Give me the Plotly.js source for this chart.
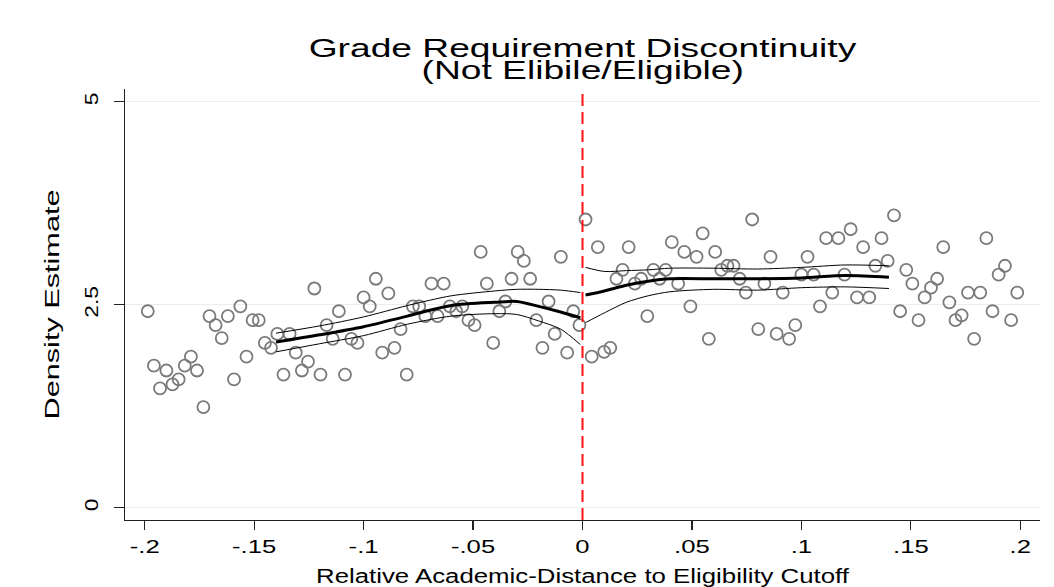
<!DOCTYPE html>
<html>
<head>
<meta charset="utf-8">
<script src="https://cdn.plot.ly/plotly-3.0.1.min.js"></script>
<style>
html,body{margin:0;padding:0;background:#fff;}
#chart{width:1054px;height:587px;}
</style>
</head>
<body>
<div id="chart"></div>
<script>
// ---- data ----
var xLeft = [-0.1986,-0.1958,-0.1930,-0.1901,-0.1873,-0.1845,-0.1817,-0.1789,-0.1761,-0.1732,-0.1704,-0.1676,-0.1648,-0.1620,-0.1592,-0.1563,-0.1535,-0.1507,-0.1479,-0.1451,-0.1423,-0.1394,-0.1366,-0.1338,-0.1310,-0.1282,-0.1254,-0.1225,-0.1197,-0.1169,-0.1141,-0.1113,-0.1085,-0.1056,-0.1028,-0.1000,-0.0972,-0.0944,-0.0915,-0.0887,-0.0859,-0.0831,-0.0803,-0.0775,-0.0746,-0.0718,-0.0690,-0.0662,-0.0634,-0.0606,-0.0577,-0.0549,-0.0521,-0.0493,-0.0465,-0.0437,-0.0408,-0.0380,-0.0352,-0.0324,-0.0296,-0.0268,-0.0239,-0.0211,-0.0183,-0.0155,-0.0127,-0.0099,-0.0070,-0.0042,-0.0014];
var yLeft = [2.42,1.75,1.47,1.69,1.52,1.58,1.75,1.86,1.69,1.24,
             2.36,2.25,2.09,2.36,1.58,2.48,1.86,2.31,2.31,2.03,
             1.97,2.14,1.64,2.14,1.91,1.69,1.80,2.70,1.64,2.25,
             2.08,2.42,1.64,2.08,2.03,2.59,2.48,2.82,1.91,2.64,
             1.97,2.20,1.64,2.48,2.48,2.36,2.76,2.36,2.76,2.48,
             2.42,2.48,2.31,2.25,3.15,2.76,2.03,2.42,2.54,2.82,
             3.15,3.04,2.82,2.31,1.97,2.54,2.14,3.09,1.91,2.42,2.25];
var xRight = [0.0014,0.0042,0.0070,0.0099,0.0127,0.0155,0.0183,0.0211,0.0239,0.0268,0.0296,0.0324,0.0352,0.0380,0.0408,0.0437,0.0465,0.0493,0.0521,0.0549,0.0577,0.0606,0.0634,0.0662,0.0690,0.0718,0.0746,0.0775,0.0803,0.0831,0.0859,0.0887,0.0915,0.0944,0.0972,0.1000,0.1028,0.1056,0.1085,0.1113,0.1141,0.1169,0.1197,0.1225,0.1254,0.1282,0.1310,0.1338,0.1366,0.1394,0.1423,0.1451,0.1479,0.1507,0.1535,0.1563,0.1592,0.1620,0.1648,0.1676,0.1704,0.1732,0.1761,0.1789,0.1817,0.1845,0.1873,0.1901,0.1930,0.1958,0.1986];
var yRight = [3.55,1.86,3.21,1.92,1.97,2.82,2.93,3.21,2.76,2.82,
              2.36,2.93,2.82,2.93,3.27,2.76,3.15,2.48,3.09,3.38,
              2.08,3.15,2.93,2.98,2.98,2.82,2.65,3.55,2.20,2.76,
              3.09,2.14,2.65,2.08,2.25,2.87,3.09,2.87,2.48,3.32,
              2.65,3.32,2.87,3.43,2.59,3.21,2.59,2.98,3.32,3.04,
              3.60,2.42,2.93,2.76,2.31,2.59,2.71,2.82,3.21,2.53,
              2.31,2.37,2.65,2.08,2.65,3.32,2.42,2.87,2.98,2.31,2.65];

var fitXLeft  = [-0.14,-0.12,-0.10,-0.08,-0.06,-0.04,-0.03,-0.02,-0.01,-0.001];
var fitLeft   = [2.04, 2.13, 2.23, 2.36, 2.49, 2.53, 2.54, 2.48, 2.41, 2.34];
var ciUpLeft  = [2.15, 2.24, 2.35, 2.49, 2.61, 2.67, 2.69, 2.69, 2.68, 2.65];
var ciLoLeft  = [1.92, 2.02, 2.12, 2.26, 2.36, 2.39, 2.38, 2.30, 2.20, 2.01];

var fitXRight = [0.0014,0.01,0.02,0.03,0.04,0.06,0.08,0.10,0.12,0.14];
var fitRight  = [2.62, 2.67, 2.74, 2.79, 2.82, 2.82, 2.82, 2.83, 2.86, 2.84];
var ciUpRight = [2.96, 2.91, 2.92, 2.93, 2.95, 2.95, 2.94, 2.96, 2.99, 2.98];
var ciLoRight = [2.28, 2.40, 2.53, 2.61, 2.66, 2.69, 2.68, 2.71, 2.72, 2.70];

var xTickVals = [-0.2,-0.15,-0.1,-0.05,0,0.05,0.1,0.15,0.2];
var xTickText = ["-.2","-.15","-.1","-.05","0",".05",".1",".15",".2"];
var yTickVals = [0,2.5,5];
var yTickText = ["0","2.5","5"];

var titleLine1 = "Grade Requirement Discontinuity";
var titleLine2 = "(Not Elibile/Eligible)";
var xTitle = "Relative Academic-Distance to Eligibility Cutoff";
var yTitle = "Density Estimate";
var cutoff = 0;

// ---- styles ----
var FONT = "Liberation Sans, Arial, Helvetica, sans-serif";
var marker = {symbol:'circle-open', size:12, color:'#7a7a7a', line:{width:1.8, color:'#7a7a7a'}};
function line(x, y, w){ return {x:x, y:y, type:'scatter', mode:'lines', line:{color:'#000', width:w, shape:'spline', smoothing:0.8}, hoverinfo:'skip', showlegend:false}; }

var data = [
  {x:xLeft, y:yLeft, type:'scatter', mode:'markers', marker:marker, showlegend:false},
  {x:xRight, y:yRight, type:'scatter', mode:'markers', marker:marker, showlegend:false},
  line(fitXLeft, ciUpLeft, 1), line(fitXLeft, ciLoLeft, 1), line(fitXLeft, fitLeft, 3),
  line(fitXRight, ciUpRight, 1), line(fitXRight, ciLoRight, 1), line(fitXRight, fitRight, 3)
];

var layout = {
  width:1054, height:587,
  margin:{l:125, r:14, t:89, b:67},
  paper_bgcolor:'#fff', plot_bgcolor:'#fff',
  font:{family:FONT, color:'#000'},
  showlegend:false,
  xaxis:{
    range:[-0.209, 0.209], tickvals:xTickVals, ticktext:xTickText,
    showgrid:false, zeroline:false, showline:true, linecolor:'#222', linewidth:1.3,
    ticks:'outside', ticklen:9, tickwidth:1.3, tickcolor:'#222',
    tickfont:{size:19, family:FONT, color:'#000'},
    title:{text:xTitle, font:{size:20, family:FONT, color:'#000'}, standoff:14}
  },
  yaxis:{
    range:[-0.151, 5.157], tickvals:yTickVals, ticktext:yTickText, tickangle:-90,
    showgrid:true, gridcolor:'#e8eef0', gridwidth:1.2, zeroline:false,
    showline:true, linecolor:'#222', linewidth:1.3,
    ticks:'outside', ticklen:10, tickwidth:1.3, tickcolor:'#222',
    ticklabelstandoff:8,
    tickfont:{size:19, family:FONT, color:'#000'},
    title:{text:yTitle, font:{size:21, family:FONT, color:'#000'}, standoff:15}
  },
  shapes:[{type:'line', xref:'x', yref:'paper', x0:cutoff, x1:cutoff, y0:0, y1:1, layer:'above',
           line:{color:'#ff1010', width:2, dash:'12px,6px'}}],
  annotations:[
    {text:titleLine1, xref:'paper', yref:'paper', x:0.5, y:1.095, xanchor:'center', yanchor:'middle', showarrow:false, font:{size:26, family:FONT, color:'#000'}},
    {text:titleLine2, xref:'paper', yref:'paper', x:0.5, y:1.044, xanchor:'center', yanchor:'middle', showarrow:false, font:{size:26, family:FONT, color:'#000'}}
  ]
};

var gd = document.getElementById('chart');
function stretch(){
  var groups = [['.xtick text',1.35],['.ytick text',1.2],['.g-xtitle text',1.29],['.g-ytitle text',1.46],['.annotation-text',1.43]];
  groups.forEach(function(g){
    gd.querySelectorAll(g[0]).forEach(function(t){
      var L = t.getComputedTextLength();
      if (L > 0) {
        t.setAttribute('textLength', (L*g[1]).toFixed(1));
        t.setAttribute('lengthAdjust', 'spacingAndGlyphs');
      }
    });
  });
}
Plotly.newPlot(gd, data, layout, {staticPlot:true, displayModeBar:false}).then(stretch);
</script>
</body>
</html>
